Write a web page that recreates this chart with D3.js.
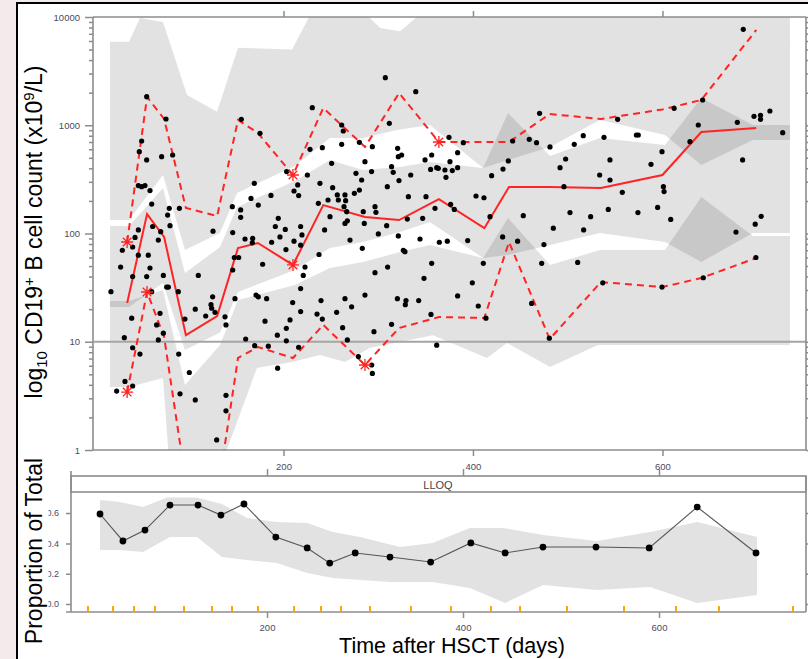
<!DOCTYPE html>
<html>
<head>
<meta charset="utf-8">
<script src="https://cdn.jsdelivr.net/npm/d3@7"></script>
<style>
  body { margin: 0; background: #f3eaeb; }
  svg { display: block; font-family: "Liberation Sans", Arial, sans-serif; }
</style>
</head>
<body>
<svg id="chart" width="808" height="659"></svg>
<script>
// ---- top panel: simulated prediction intervals (day, count) ----
const upperHi = [[16.9,5900],[37,5900],[48.5,9800],[72.8,9000],[98.2,1900],[129.8,1330],[152,5200],[209,5000],[228,10400],[281,12000],[302,7900],[323,7400],[351.5,12000],[734.6,12000]];
const upperLo = [[16.9,133],[37,133],[72.8,347],[96,70.4],[133,101],[151,237],[212,420],[249,762],[284,762],[320,904],[354.6,1005],[410.6,403],[437,478],[481.3,630],[534,1118],[602.6,812],[641,429],[695.5,731],[734.6,731]];
const midHi = [[16.9,117],[37,117],[72.8,263],[96,43.2],[133,75],[151,176],[212,305],[249,478],[284,386],[323,412],[354.6,458],[410.6,403],[437,1298],[481.3,520],[534,762],[602.6,657],[641,1785],[695.5,1005],[734.6,1005]];
const midLo = [[16.9,20.9],[37,20.9],[72.8,34.9],[96,8.39],[133,12.2],[152,28.8],[212,46],[249,73.5],[284,83.4],[323,103],[354.6,128],[410.6,59.4],[437,63.3],[481.3,78.3],[534,101],[602.6,83.4],[641,54.5],[695.5,101],[734.6,101]];
const lowHi = [[16.9,23.8],[37,23.8],[72.8,30.1],[96,3.99],[133,9.33],[152,24.3],[212,33.4],[249,48],[284,54.5],[323,67.5],[354.6,78.3],[410.6,59.4],[437,139],[481.3,51.2],[534,70.4],[602.6,70.4],[641,217],[695.5,94.8],[734.6,94.8]];
const lowLo = [[16.9,3.82],[37,3.82],[72.8,4.63],[80.2,0.6],[138.3,0.9],[172,5.72],[209,6.5],[238.5,7.54],[265,6.5],[291,8.76],[357.8,11.5],[414.8,7.08],[436,9.74],[481.3,5.85],[532,9.33],[734.6,9.33]];

// observed percentiles per bin
const binMid = [35,56,74,97,130,152,173,210,242,286,322,364,412,438,481,535,600,641,699];
const obsMedian = [22.8,151,92.8,11.5,17.3,73.5,81.7,51.2,183,142,133,208,112,269,269,263,347,866,943];
const obs95 = [83.5,1824,1142,172,145,1118,848,347,1443,630,1986,700,700,700,1270,1142,1400,1711,7586];
const obs5 = [3.43,28.8,11.07,0.496,0.376,7.08,8.94,7.08,14.3,6.1,13.4,16.9,16.6,83.4,10.6,35.6,32.0,38.8,59.4];
const flag95 = [0, 7, 11];
const flagMedian = [7];
const flag5 = [0, 1, 9];
const lloq = 10;

// observations (day, count)
const observations = [
  [17.9,29],[23.9,3.5],[28.1,49],[29.9,70],[32,10.9],[32.7,4.3],[39.8,16.5],[40.8,75],[40.8,40],[40.8,8.8],[40.8,3.9],[43.3,92],
  [46.8,108],[46.8,63],[46.8,277],[47.8,570],[50.3,715],[50.3,271],[53.8,277],[55.6,1837],[55.6,478],[55.6,40],[57.3,63],[59.1,249],
  [59.1,48],[60.9,187],[60.9,29],[61.9,116],[66.1,14.3],[69.7,18.3],[67.9,10.4],[67.9,87],[70.4,104],[71.4,513],[73.2,41],[73.2,12],
  [76,1142],[76.7,32],[78.5,32],[79.5,171],[77.7,148],[80.2,118],[83,531],[48.5,7.7],[89.4,7.7],[90.1,171],[89,29],[96,16.2],
  [100.6,5.2],[90.8,3.3],[106.9,2.9],[106.9,20],[110.1,41],[117.9,17.3],[123.5,22],[124.2,20.4],[127.7,18.7],[125.2,26],[125.6,105],
  [129.5,1.24],[138.3,17],[139.3,14.3],[139.3,3.2],[139.3,2.3],[146,177],[146.4,102],[146.4,46],[148.1,60],[152.7,60],[148.8,25],
  [154.8,165],[154.8,141],[155.5,1134],[159.4,89],[160.1,10.6],[165.7,211],[167.5,90],[167.1,82],[169.2,291],[169.6,9.2],[171,27],
  [173.4,26],[173.4,183],[175.2,842],[178,52],[180.5,15.5],[182.2,25],[184,9.1],[186.8,225],[187.5,83],[191.4,116],[193.5,11.5],
  [193.8,5.7],[194.5,138],[196.3,93],[201.9,109],[202.6,71],[203,13.3],[203,10.2],[203.3,373],[206.9,15.9],[209.7,23],[211.1,247],
  [211.1,85],[215,281],[216,224],[216,8.9],[218.1,116],[219.5,97],[218.1,78],[218.1,31],[218.1,19],[222.7,49],[220.9,41],[225.2,347],
  [228,599],[230.4,1454],[235.4,18],[236.8,190],[237.5,64],[238.5,291],[239.6,24],[241,621],[241,16.2],[243.4,108],[247,204],[249.1,143],
  [251.9,265],[250.8,445],[256.8,227],[257.9,204],[264.9,227],[261.4,1005],[263.1,885],[261.4,666],[265.6,201],[263.9,177],[266.7,159],
  [267.4,131],[264.9,124],[270.2,87],[271.9,21],[264.9,25],[256.1,18.7],[262.4,13.5],[267.4,10.4],[276.5,360],[274.8,235],[280.1,252],
  [282.5,312],[280.1,695],[286,461],[284.2,159],[285.3,124],[283.2,73],[286,27],[293,373],[293.8,634],[296.6,177],[297.6,157],[300.1,99],
  [296.6,43.5],[295.5,12.4],[307.5,2751],[311.7,1041],[309.6,271],[308.9,118],[309.9,49],[314.1,414],[315.8,367],[314.1,14.5],[320.2,25],
  [320.5,612],[321.2,513],[321.9,308],[321.2,95],[324.7,531],[326.5,70],[328.2,68],[329.3,24],[328.6,22],[330.7,136],[331.8,219],
  [334.3,347],[339.6,2043],[342.7,24],[344.1,89],[348.3,38.5],[346.9,138],[349.4,478],[350.4,219],[356.4,531],[355.3,391],[356.4,53],
  [355.7,17.9],[361.7,406],[363.4,400],[359.9,171],[364.5,83],[370.4,386],[371.5,330],[372.9,85],[374.7,773],[375.7,461],[376.4,186],
  [378.2,381],[380.3,167],[383.8,558],[383.8,406],[383.8,26.5],[389.8,690],[394.4,86],[399.3,35],[403.2,222],[405.6,21.4],[411.6,214],
  [410.9,53],[413.7,16.5],[418,143],[419.7,342],[431.7,394],[431.3,93],[437.3,468],[441.9,715],[447.1,85],[453.1,146],[459.4,741],
  [467.1,690],[470.3,1289],[474.9,79],[472.5,53],[481.3,630],[484.8,112],[491.9,406],[461.9,22.6],[480.6,10.8],[361.7,9.3],[293.8,5.1],
  [293.1,6.1],[279,7.3],
  [496,271],[502.4,156],[506.9,666],[497.8,488],[510.5,54],[516.4,801],[516.8,108],[524.2,143],[533.7,347],[538.3,773],[542.8,167],
  [544.6,478],[544.6,312],[552.7,1134],[557.6,240],[572.5,813],[574.5,813],[574.1,156],[587.9,436],[594.9,174],[599.5,570],[601,271],
  [601.7,244],[608.7,135],[612.3,1433],[629,705],[637.8,1005],[642.4,1711],[643.1,39],[679,1064],[684.6,478],[685.3,7690],[677.6,103],
  [696.6,1209],[697.9,122],[703.5,1235],[703.5,1134],[704.2,144],[713.4,1354],[726.9,854],[698.6,60],[599.5,32],[537,35]
];

// ---- bottom panel: proportion below LLOQ ----
const propDays = [29.6,53,75.5,101,129.6,153,176.5,209,241,264,290,325.5,367,408,443,481.6,535.7,590,639,699];
const propObs = [0.594,0.416,0.488,0.653,0.653,0.587,0.66,0.442,0.37,0.27,0.337,0.31,0.277,0.403,0.337,0.376,0.376,0.37,0.64,0.337];
const propUpper = [[29.6,0.686],[50,0.673],[73.5,0.64],[98,0.703],[128.6,0.703],[154,0.66],[179.6,0.568],[210,0.541],[241,0.535],[267,0.475],[295,0.442],[335.7,0.376],[369,0.402],[407,0.502],[441,0.502],[481.6,0.455],[536.7,0.416],[590.8,0.475],[639,0.541],[700,0.442]];
const propLower = [[29.6,0.356],[50,0.356],[73.5,0.343],[101,0.442],[128.6,0.442],[154,0.31],[179.6,0.29],[210,0.27],[241,0.205],[267,0.172],[295,0.158],[325.5,0.145],[369,0.145],[407,0.106],[443,0.007],[481.6,0.125],[536.7,0.092],[590.8,0.112],[639,0.007],[700,0.059]];
const binEdges = [17.3,42.9,64.3,85.7,115.3,143.9,164.3,190.8,227.6,255.1,275.5,305.1,346.9,387.8,428.6,458.2,506.1,564.3,617.3,661.2,736.7];

const xTicks = [200, 400, 600];
const yTicksTop = [1, 10, 100, 1000, 10000];
const yTicksBottom = [0, 0.2, 0.4, 0.6];

const svg = d3.select("#chart");
const axisColor = "#8c8c8c";
const labelColor = "#4a4b60";
const red = "#ff2424";

// outer white sheet with black border
svg.append("rect").attr("x", 17).attr("y", 3).attr("width", 791).attr("height", 656).attr("fill", "#fff");
svg.append("line").attr("x1", 17).attr("x2", 808).attr("y1", 3).attr("y2", 3).attr("stroke", "#000").attr("stroke-width", 2);
svg.append("line").attr("x1", 17).attr("x2", 17).attr("y1", 2).attr("y2", 659).attr("stroke", "#000").attr("stroke-width", 2);

const defs = svg.append("defs");
defs.append("clipPath").attr("id", "clipTop")
  .append("rect").attr("x", 94).attr("y", 17).attr("width", 712).attr("height", 433);
defs.append("clipPath").attr("id", "clipLab")
  .append("rect").attr("x", 48.5).attr("y", 460).attr("width", 30).attr("height", 160);

// ================= TOP PANEL =================
const xTop = d3.scaleLinear().domain([0, 751.5]).range([94, 806]);
const yTop = d3.scaleLog().domain([1, 10000]).range([450, 17]);

const plot = svg.append("g").attr("clip-path", "url(#clipTop)");
const edge = d3.line().x(d => xTop(d[0])).y(d => yTop(d[1]));

[[upperHi, upperLo], [midHi, midLo], [lowHi, lowLo]].forEach(([hi, lo]) => {
  plot.append("path")
    .attr("d", edge(hi.concat(lo.slice().reverse())) + "Z")
    .attr("fill", "#000")
    .attr("fill-opacity", 0.112);
});

// LLOQ reference
plot.append("line")
  .attr("x1", 94).attr("x2", 806)
  .attr("y1", yTop(lloq)).attr("y2", yTop(lloq))
  .attr("stroke", "#a5a5a5").attr("stroke-width", 2);

// observed percentile lines
const pctLine = d3.line().x((d, i) => xTop(binMid[i])).y(d => yTop(d));
plot.append("path").attr("d", pctLine(obs95)).attr("fill", "none")
  .attr("stroke", red).attr("stroke-width", 2).attr("stroke-dasharray", "7,5");
plot.append("path").attr("d", pctLine(obs5)).attr("fill", "none")
  .attr("stroke", red).attr("stroke-width", 2).attr("stroke-dasharray", "7,5");
plot.append("path").attr("d", pctLine(obsMedian)).attr("fill", "none")
  .attr("stroke", red).attr("stroke-width", 2);

// observations
plot.selectAll("circle.obs")
  .data(observations)
  .enter()
  .append("circle")
  .attr("class", "obs")
  .attr("cx", d => xTop(d[0]))
  .attr("cy", d => yTop(d[1]))
  .attr("r", 2.6)
  .attr("fill", "#000");

// flagged percentiles (asterisks)
const star = "M-6,0L6,0M0,-6L0,6M-4.3,-4.3L4.3,4.3M-4.3,4.3L4.3,-4.3";
const flagged = flag95.map(i => [binMid[i], obs95[i]])
  .concat(flagMedian.map(i => [binMid[i], obsMedian[i]]))
  .concat(flag5.map(i => [binMid[i], obs5[i]]));
plot.selectAll("path.star")
  .data(flagged)
  .enter()
  .append("path")
  .attr("class", "star")
  .attr("d", star)
  .attr("transform", d => `translate(${xTop(d[0])},${yTop(d[1])})`)
  .attr("stroke", red).attr("stroke-width", 1.3).attr("fill", "none");

// axes, top panel
function styleAxis(g) {
  g.selectAll("path.domain").remove();
  g.selectAll("line").attr("stroke", axisColor).attr("stroke-width", 1.5);
  g.selectAll("text").attr("fill", labelColor).attr("font-size", 9.5)
    .attr("font-family", "Liberation Sans, Arial, sans-serif");
}
const minorTop = [];
for (let e = 0; e < 4; e++) for (let m = 2; m <= 9; m++) minorTop.push(m * Math.pow(10, e));

svg.append("g").attr("transform", "translate(93,0)")
  .call(d3.axisLeft(yTop).tickValues(yTicksTop).tickFormat(d3.format("d")).tickSize(8).tickPadding(5))
  .call(styleAxis);
svg.append("g").attr("transform", "translate(93,0)")
  .call(d3.axisLeft(yTop).tickValues(minorTop).tickFormat("").tickSize(4))
  .call(styleAxis);
svg.append("g").attr("transform", "translate(806,0)")
  .call(d3.axisRight(yTop).tickValues(yTicksTop).tickFormat("").tickSize(6))
  .call(styleAxis);
svg.append("g").attr("transform", "translate(806,0)")
  .call(d3.axisRight(yTop).tickValues(minorTop).tickFormat("").tickSize(3))
  .call(styleAxis);
svg.append("g").attr("transform", "translate(0,17)")
  .call(d3.axisTop(xTop).tickValues(xTicks).tickFormat("").tickSize(6))
  .call(styleAxis);
svg.append("g").attr("transform", "translate(0,450)")
  .call(d3.axisBottom(xTop).tickValues(xTicks).tickFormat(d3.format("d")).tickSize(6).tickPadding(7))
  .call(styleAxis);

// panel frame lines
const frameTop = svg.append("g").attr("stroke", axisColor).attr("stroke-width", 1.6);
frameTop.append("line").attr("x1", 93).attr("x2", 806).attr("y1", 17).attr("y2", 17);
frameTop.append("line").attr("x1", 93).attr("x2", 806).attr("y1", 450).attr("y2", 450);
frameTop.append("line").attr("x1", 93).attr("x2", 93).attr("y1", 17).attr("y2", 450);
frameTop.append("line").attr("x1", 806).attr("x2", 806).attr("y1", 17).attr("y2", 450);

// ================= BOTTOM PANEL =================
const xBot = d3.scaleLinear().domain([0, 750]).range([71, 806]);
const yBot = d3.scaleLinear().domain([0, 0.6]).range([604, 513.1]);

const bottom = svg.append("g");
bottom.append("path")
  .attr("d", d3.line().x(d => xBot(d[0])).y(d => yBot(d[1]))(propUpper.concat(propLower.slice().reverse())) + "Z")
  .attr("fill", "#e2e2e2");

bottom.append("path")
  .attr("d", d3.line().x((d, i) => xBot(propDays[i])).y(d => yBot(d))(propObs))
  .attr("fill", "none").attr("stroke", "#555").attr("stroke-width", 1.1);
bottom.selectAll("circle")
  .data(propObs)
  .enter()
  .append("circle")
  .attr("cx", (d, i) => xBot(propDays[i]))
  .attr("cy", d => yBot(d))
  .attr("r", 3.4)
  .attr("fill", "#000");

// bin boundaries rug
bottom.selectAll("line.rug")
  .data(binEdges)
  .enter()
  .append("line")
  .attr("class", "rug")
  .attr("x1", d => xBot(d)).attr("x2", d => xBot(d))
  .attr("y1", 606).attr("y2", 611)
  .attr("stroke", "#ffa500").attr("stroke-width", 2);

// strip
svg.append("rect").attr("x", 71).attr("y", 476).attr("width", 735).attr("height", 16)
  .attr("fill", "#fff").attr("stroke", axisColor).attr("stroke-width", 1.6);
svg.append("text").attr("x", 438).attr("y", 489).attr("text-anchor", "middle")
  .attr("font-size", 11).attr("fill", "#444").text("LLOQ");

// left axis: labels are cut off at the panel's left edge
svg.append("g").attr("clip-path", "url(#clipLab)")
  .append("g").attr("transform", "translate(71,0)")
  .call(d3.axisLeft(yBot).tickValues(yTicksBottom).tickFormat(d3.format(".1f")).tickSize(5).tickPadding(7))
  .call(styleAxis)
  .call(g => g.selectAll("text").attr("font-size", 9));
svg.append("g").attr("transform", "translate(806,0)")
  .call(d3.axisRight(yBot).tickValues(yTicksBottom).tickFormat("").tickSize(4))
  .call(styleAxis);
svg.append("g").attr("transform", "translate(0,476)")
  .call(d3.axisTop(xBot).tickValues(xTicks).tickFormat("").tickSize(7))
  .call(styleAxis);
svg.append("g").attr("transform", "translate(0,612)")
  .call(d3.axisBottom(xBot).tickValues(xTicks).tickFormat(d3.format("d")).tickSize(6).tickPadding(6))
  .call(styleAxis);

const frameBot = svg.append("g").attr("stroke", axisColor).attr("stroke-width", 1.6);
frameBot.append("line").attr("x1", 71).attr("x2", 71).attr("y1", 471).attr("y2", 612);
frameBot.append("line").attr("x1", 66).attr("x2", 806).attr("y1", 612).attr("y2", 612);
frameBot.append("line").attr("x1", 806).attr("x2", 806).attr("y1", 476).attr("y2", 612);

// ================= TITLES =================
const yt = svg.append("text")
  .attr("transform", "translate(42,232) rotate(-90)")
  .attr("text-anchor", "middle").attr("font-size", 23).attr("fill", "#000");
yt.append("tspan").text("log");
yt.append("tspan").attr("font-size", 15).attr("dy", 5).text("10");
yt.append("tspan").attr("dy", -5).text(" CD19");
yt.append("tspan").attr("font-size", 15).attr("dy", -8).text("+");
yt.append("tspan").attr("dy", 8).text(" B cell count (x10");
yt.append("tspan").attr("font-size", 15).attr("dy", -8).text("9");
yt.append("tspan").attr("dy", 8).text("/L)");

svg.append("text")
  .attr("transform", "translate(42,551) rotate(-90)")
  .attr("text-anchor", "middle").attr("font-size", 23).attr("fill", "#000")
  .text("Proportion of Total");

svg.append("text")
  .attr("x", 452).attr("y", 653)
  .attr("text-anchor", "middle").attr("font-size", 21.5).attr("fill", "#000")
  .text("Time after HSCT (days)");
</script>
</body>
</html>
